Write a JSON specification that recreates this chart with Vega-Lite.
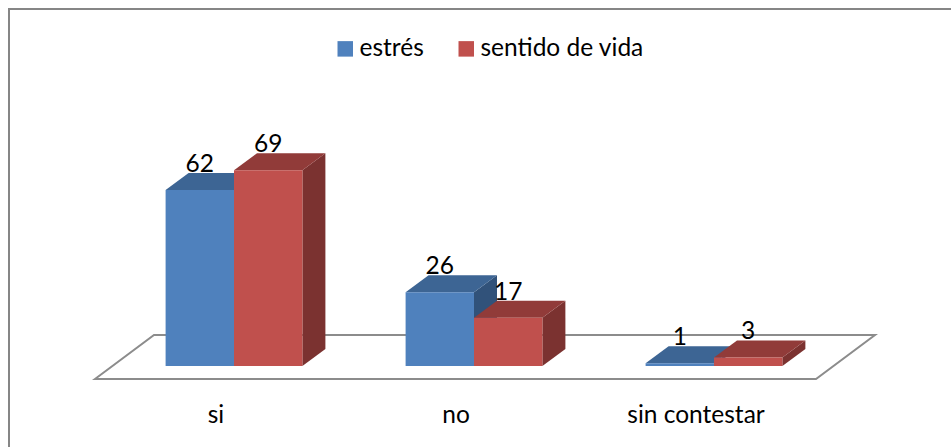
{
"$schema":"https://vega.github.io/schema/vega-lite/v6.json",
"width":943,"height":439,
"autosize":{"type":"none"},
"padding":{"left":9,"top":9,"right":0,"bottom":0},
"background":"white",
"view":{"stroke":"#868686","strokeWidth":2,"fill":"white"},
"data":{"values":[
{"category":"si","series":"estrés","value":62},
{"category":"si","series":"sentido de vida","value":69},
{"category":"no","series":"estrés","value":26},
{"category":"no","series":"sentido de vida","value":17},
{"category":"sin contestar","series":"estrés","value":1},
{"category":"sin contestar","series":"sentido de vida","value":3}
]},
"encoding":{
"x":{"field":"category","type":"nominal","sort":["si","no","sin contestar"],
"scale":{"range":[105,825],"paddingInner":0.43,"paddingOuter":0.215},
"axis":{"orient":"bottom","title":null,"domain":false,"ticks":false,"grid":false,"labelAngle":0,"labelFont":"Lato","labelFontSize":24.5,"labelColor":"#000000","offset":-45,"labelPadding":12,"labelBaseline":"middle","labelOffset":-18}},
"xOffset":{"field":"series","type":"nominal","sort":["estrés","sentido de vida"]},
"y":{"field":"value","type":"quantitative","scale":{"domain":[0,80],"range":[357,130],"nice":false},"axis":null}
},
"layer":[
{"transform":[{"filter":"datum.category==='no' && datum.series==='estrés'"}],
"mark":{"type":"point","shape":"M-344.8,13L-285.8,-31L435.2,-31L376.2,13Z","size":4,"filled":true,"fill":"white","stroke":"#8C8C8C","strokeWidth":2,"opacity":1},
"encoding":{"y":{"datum":0,"type":"quantitative"}}},
{"mark":{"type":"point","size":4,"filled":true,"opacity":1},
"encoding":{
"shape":{"field":"value","type":"nominal","legend":null,"scale":{"domain":[62,69,26,17,1,3],"range":[
"M34.2,0L57.2,-17L57.2,158.9L34.2,175.9Z",
"M34.2,0L57.2,-17L57.2,178.8L34.2,195.8Z",
"M34.2,0L57.2,-17L57.2,56.8L34.2,73.8Z",
"M34.2,0L57.2,-17L57.2,31.2L34.2,48.2Z",
"M34.2,0L57.2,-17L57.2,-14.2L34.2,2.8Z",
"M34.2,0L57.2,-17L57.2,-8.5L34.2,8.5Z"]}},
"color":{"field":"series","type":"nominal","legend":null,"scale":{"domain":["estrés","sentido de vida"],"range":["#31527A","#7B3230"]}}}},
{"mark":{"type":"point","shape":"M-34.2,0L-11.2,-17L57.2,-17L34.2,0Z","size":4,"filled":true,"opacity":1},
"encoding":{"color":{"field":"series","type":"nominal","legend":null,"scale":{"domain":["estrés","sentido de vida"],"range":["#3D6594","#913B39"]}}}},
{"mark":{"type":"bar"},
"encoding":{"color":{"field":"series","type":"nominal","sort":["estrés","sentido de vida"],
"scale":{"domain":["estrés","sentido de vida"],"range":["#4F81BD","#C0504D"]},
"legend":{"orient":"none","legendX":324,"legendY":27.5,"direction":"horizontal","title":null,"symbolType":"square","symbolSize":240,"symbolStrokeWidth":0,"symbolOpacity":1,"labelFont":"Lato","labelFontSize":24.5,"labelColor":"#000000","labelLimit":400,"columns":2,"columnPadding":30,"labelOffset":2}}}},
{"mark":{"type":"text","font":"Lato","fontSize":24.5,"color":"#000000","baseline":"alphabetic","dy":-18},
"encoding":{"text":{"field":"value","type":"quantitative"}}}
],
"resolve":{"scale":{"color":"independent"}}
}
